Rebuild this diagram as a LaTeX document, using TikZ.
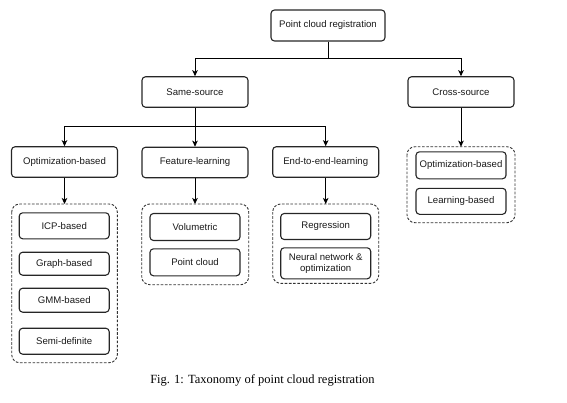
\documentclass[tikz,border=0pt]{standalone}
\usepackage{fontspec}
\setmainfont{Liberation Sans}
\newfontfamily\capfont{Liberation Serif}
\usetikzlibrary{arrows.meta}
\begin{document}
\begin{tikzpicture}[x=1pt,y=-1pt,
  box/.style={draw=black!85,line width=1.1pt,rounded corners=3.5pt,inner sep=1pt,
    align=center,font=\fontsize{9.6}{11}\selectfont,text=black!90},
  big/.style={box,minimum width=106pt,minimum height=30.5pt},
  small/.style={box,minimum width=90pt,minimum height=26pt},
  grp/.style={draw=black!80,line width=0.9pt,dash pattern=on 2.6pt off 1.6pt,rounded corners=8pt},
  arr/.style={draw=black,line width=0.9pt,-{Stealth[length=6pt,width=5.5pt,inset=1.5pt]}},
  ln/.style={draw=black,line width=0.9pt}]
\useasboundingbox (0,0) rectangle (567,402);
% main nodes
\node[box,minimum width=114pt,minimum height=31pt] (root) at (328,25.5) {Point cloud registration};
\node[big] (same) at (195,92) {Same-source};
\node[big] (cross) at (461,92) {Cross-source};
\node[big] (opt) at (64.5,162) {Optimization-based};
\node[big] (feat) at (195,162.5) {Feature-learning};
\node[big] (e2e) at (325.7,162) {End-to-end-learning};
% groups
\draw[grp] (11.7,204) rectangle (117.3,362.7);
\coordinate (g1) at (64.5,204);
\draw[grp] (141.7,204) rectangle (248.7,284.7);
\coordinate (g2) at (195,204);
\draw[grp] (272.7,204) rectangle (378.7,283.3);
\coordinate (g3) at (325.7,204);
\draw[grp] (407,146.7) rectangle (515,222.7);
\coordinate (g4) at (461,146.7);
% group contents
\node[small] (icp) at (64.2,225.8) {ICP-based};
\node[small,minimum height=23pt] (graph) at (64.2,263.7) {Graph-based};
\node[small,minimum height=24pt] (gmm) at (64.2,300.2) {GMM-based};
\node[small] (semi) at (64.2,341.2) {Semi-definite};
\node[small,minimum height=27pt] (vol) at (195,227) {Volumetric};
\node[small,minimum height=27pt] (pc) at (195,262.3) {Point cloud};
\node[small] (reg) at (325.7,226.5) {Regression};
\node[small,minimum height=31pt] (nn) at (325.7,263.3) {Neural network \&\\optimization};
\node[small,minimum height=27pt] (copt) at (461,165.3) {Optimization-based};
\node[small] (learn) at (461,201.3) {Learning-based};
% connectors
\coordinate (b1) at (328,58.7);
\coordinate (b2) at (195,126.7);
\draw[ln] (root.south) -- (b1);
\draw[arr] (b1) -| (same.north);
\draw[arr] (b1) -| (cross.north);
\draw[ln] (same.south) -- (b2);
\draw[arr] (b2) -| (opt.north);
\draw[arr] (b2) -- (feat.north);
\draw[arr] (b2) -| (e2e.north);
\draw[arr] (opt.south) -- (g1);
\draw[arr] (feat.south) -- (g2);
\draw[arr] (e2e.south) -- (g3);
\draw[arr] (cross.south) -- (g4);
% caption
\node[font=\capfont\fontsize{12.5}{14}\selectfont,inner sep=0pt] (cap) at (262.5,380) {Fig. 1: Taxonomy of point cloud registration};
\end{tikzpicture}
\end{document}
